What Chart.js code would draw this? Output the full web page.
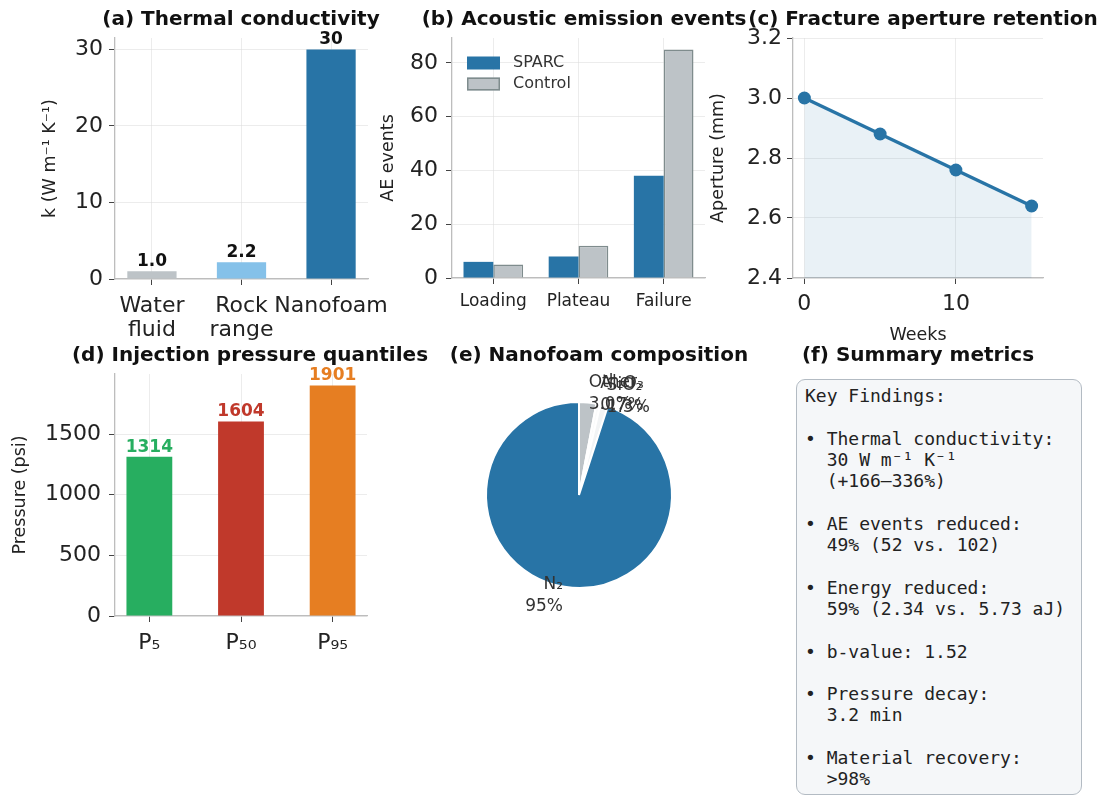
<!DOCTYPE html>
<html>
<head>
<meta charset="utf-8">
<script src="https://cdn.jsdelivr.net/npm/chart.js@4.4.1/dist/chart.umd.min.js"></script>
<style>
  html, body { margin: 0; padding: 0; background: #fff; }
  #fig { position: relative; width: 1103px; height: 797px; overflow: hidden; background: #fff; font-family: 'DejaVu Sans', sans-serif; }
  #fig canvas { position: absolute; left: 0; top: 0; }
  .ttl { position: absolute; transform: translate(-50%, -50%); font-weight: bold; font-size: 20px; white-space: nowrap; color: #111; }
  #summary { position: absolute; left: 796px; top: 379px; width: 286px; height: 416px; box-sizing: border-box;
             border: 1.5px solid #b3bbc3; border-radius: 9px; background: #f5f7f9; padding: 5px 0 0 8px;
             font-family: 'DejaVu Sans Mono', monospace; font-size: 18px; line-height: 21.3px; white-space: pre; color: #222; }
</style>
</head>
<body>
<div id="fig">
  <canvas id="cA" width="1103" height="797"></canvas>
  <canvas id="cB" width="1103" height="797"></canvas>
  <canvas id="cC" width="1103" height="797"></canvas>
  <canvas id="cD" width="1103" height="797"></canvas>
  <canvas id="cE" width="1103" height="797"></canvas>
  <div class="ttl" style="left:241px;top:18px">(a) Thermal conductivity</div>
  <div class="ttl" style="left:584px;top:18px">(b) Acoustic emission events</div>
  <div class="ttl" style="left:923px;top:18px">(c) Fracture aperture retention</div>
  <div class="ttl" style="left:250px;top:354px">(d) Injection pressure quantiles</div>
  <div class="ttl" style="left:599px;top:354px">(e) Nanofoam composition</div>
  <div class="ttl" style="left:918px;top:354px">(f) Summary metrics</div>
  <div id="summary"></div>
</div>
<script>
// ---- data ----
const materials = [['Water', 'fluid'], ['Rock', 'range'], 'Nanofoam'];
const conductivity = [1.0, 2.2, 30];
const conductivityTicks = [0, 10, 20, 30];

const phases = ['Loading', 'Plateau', 'Failure'];
const aeSparc = [6, 8, 38];
const aeControl = [5, 12, 85];
const aeTicks = [0, 20, 40, 60, 80];

const weeks = [0, 5, 10, 15];
const aperture = [3.00, 2.88, 2.76, 2.64];
const apertureTicks = [2.4, 2.6, 2.8, 3.0, 3.2];
const weekTicks = [0, 10];

const quantiles = ['P\u2085', 'P\u2085\u2080', 'P\u2089\u2085'];
const pressure = [1314, 1604, 1901];
const pressureTicks = [0, 500, 1000, 1500];

const components = ['N\u2082', 'SiO\u2082', 'Al\u2082O\u2083', 'Other'];
const shares = [95, 1.3, 0.7, 3.0];

const findings = [
  'Key Findings:',
  '',
  '\u2022 Thermal conductivity:',
  '  30 W m\u207B\u00B9 K\u207B\u00B9',
  '  (+166\u2013336%)',
  '',
  '\u2022 AE events reduced:',
  '  49% (52 vs. 102)',
  '',
  '\u2022 Energy reduced:',
  '  59% (2.34 vs. 5.73 aJ)',
  '',
  '\u2022 b-value: 1.52',
  '',
  '\u2022 Pressure decay:',
  '  3.2 min',
  '',
  '\u2022 Material recovery:',
  '  >98%'
];

// ---- styling ----
const W = 1103, H = 797;
const BLUE = '#2874a6';
const SPINE = '#bdbdbd';
const GRID = 'rgba(220,220,220,0.55)';
const TEXT = '#222';
Chart.defaults.font.family = "'DejaVu Sans', sans-serif";
Chart.defaults.color = TEXT;
Chart.defaults.animation = false;

document.getElementById('summary').textContent = findings.join('\n');

// fixed axis sizes so every plot area lands on a known rectangle
function fixSize(size) {
  return s => {
    if (s.isHorizontal()) s.height = size; else s.width = size;
    s.paddingTop = s.paddingBottom = s.paddingLeft = s.paddingRight = 0;
  };
}
function frame(area, yW, xH) {
  return { padding: { left: area[0] - yW, top: area[1], right: W - area[2], bottom: H - area[3] - xH } };
}
function axis(opts) {
  return {
    type: 'linear', min: opts.min, max: opts.max, z: opts.z || 0, offset: false,
    afterBuildTicks: s => { s.ticks = opts.ticks.map(v => ({ value: v })); },
    afterFit: fixSize(opts.size),
    grid: { color: GRID, lineWidth: 1, tickLength: 6, tickColor: '#444', tickWidth: 1, offset: false },
    border: { color: SPINE, width: 1.3 },
    ticks: { font: { size: opts.fontSize || 22, lineHeight: 1.1 }, color: TEXT, padding: opts.pad || 7,
             autoSkip: false, maxRotation: 0, minRotation: 0, callback: opts.fmt },
    title: { display: !!opts.title, text: opts.title, font: { size: 17.5 }, color: TEXT, padding: { top: 0, bottom: 0 } }
  };
}
const basePlugins = { legend: { display: false }, tooltip: { enabled: false } };

function barLabels(colors, fmt) {
  return {
    id: 'barLabels',
    afterDraw(chart) {
      const ctx = chart.ctx;
      const ds = chart.data.datasets[0];
      ctx.save();
      ctx.font = "bold 17px 'DejaVu Sans'";
      ctx.textAlign = 'center';
      ctx.textBaseline = 'bottom';
      chart.getDatasetMeta(0).data.forEach((bar, i) => {
        ctx.fillStyle = colors[i];
        ctx.fillText(fmt(ds.data[i].y), bar.x, bar.y - 1);
      });
      ctx.restore();
    }
  };
}

// ---- (a) thermal conductivity ----
new Chart(document.getElementById('cA'), {
  type: 'bar',
  data: { datasets: [{
    data: conductivity.map((v, i) => ({ x: i, y: v })),
    backgroundColor: ['#bdc3c7', '#85c1e9', BLUE],
    categoryPercentage: 0.55, barPercentage: 1
  }] },
  options: {
    responsive: false, layout: frame([115, 38, 368, 279], 75, 70),
    plugins: basePlugins,
    scales: {
      x: axis({ min: -0.4125, max: 2.4125, ticks: [0, 1, 2], size: 70, z: 1, pad: 9, fmt: v => materials[v] }),
      y: axis({ min: 0, max: 31.5, ticks: conductivityTicks, size: 75, z: 1, pad: 6, fmt: v => String(v),
                title: 'k (W m\u207B\u00B9 K\u207B\u00B9)' })
    }
  },
  plugins: [barLabels(['#111', '#111', '#111'], v => v >= 10 ? v.toFixed(0) : v.toFixed(1))]
});

// ---- (b) acoustic emission ----
const aeLegend = {
  id: 'aeLegend',
  afterDraw(chart) {
    const ctx = chart.ctx, a = chart.chartArea;
    ctx.save();
    ctx.font = "16px 'DejaVu Sans'";
    ctx.textBaseline = 'middle';
    chart.data.datasets.forEach((ds, i) => {
      const x = a.left + 15, y = a.top + 25 + i * 21;
      ctx.fillStyle = ds.backgroundColor;
      ctx.fillRect(x, y - 6.5, 33, 13);
      if (ds.borderWidth) {
        ctx.strokeStyle = ds.borderColor; ctx.lineWidth = ds.borderWidth;
        ctx.strokeRect(x + 0.75, y - 5.75, 31.5, 11.5);
      }
      ctx.fillStyle = '#333';
      ctx.fillText(ds.label, x + 46, y);
    });
    ctx.restore();
  }
};
new Chart(document.getElementById('cB'), {
  type: 'bar',
  data: { datasets: [
    { label: 'SPARC', data: aeSparc.map((v, i) => ({ x: i, y: v })), backgroundColor: BLUE, borderWidth: 0,
      categoryPercentage: 0.7, barPercentage: 1 },
    { label: 'Control', data: aeControl.map((v, i) => ({ x: i, y: v })), backgroundColor: '#bdc3c7',
      borderColor: '#7f8c8d', borderWidth: 1.5, categoryPercentage: 0.7, barPercentage: 1 }
  ] },
  options: {
    responsive: false, layout: frame([452, 38, 705, 278], 74, 70),
    plugins: basePlugins,
    scales: {
      x: axis({ min: -0.485, max: 2.485, ticks: [0, 1, 2], size: 70, z: 1, fontSize: 17, pad: 8, fmt: v => phases[v] }),
      y: axis({ min: 0, max: 89.25, ticks: aeTicks, size: 74, z: 1, pad: 8, fmt: v => String(v), title: 'AE events' })
    }
  },
  plugins: [aeLegend]
});

// ---- (c) aperture retention ----
new Chart(document.getElementById('cC'), {
  type: 'line',
  data: { datasets: [{
    data: weeks.map((w, i) => ({ x: w, y: aperture[i] })),
    borderColor: BLUE, borderWidth: 3.5, pointRadius: 6.5, pointBackgroundColor: BLUE, pointBorderWidth: 0,
    fill: 'start', backgroundColor: 'rgba(40,116,166,0.1)', tension: 0
  }] },
  options: {
    responsive: false, layout: frame([793, 38, 1043, 278], 85, 68),
    plugins: basePlugins,
    scales: {
      x: axis({ min: -0.75, max: 15.75, ticks: weekTicks, size: 68, pad: 8, fmt: v => String(v), title: 'Weeks' }),
      y: axis({ min: 2.4, max: 3.2, ticks: apertureTicks, size: 85, pad: 5, fmt: v => v.toFixed(1), title: 'Aperture (mm)' })
    }
  }
});

// ---- (d) injection pressure ----
const qColors = ['#27ae60', '#c0392b', '#e67e22'];
new Chart(document.getElementById('cD'), {
  type: 'bar',
  data: { datasets: [{
    data: pressure.map((v, i) => ({ x: i, y: v })),
    backgroundColor: qColors, categoryPercentage: 0.5, barPercentage: 1
  }] },
  options: {
    responsive: false, layout: frame([115, 374, 367, 616], 105, 60),
    plugins: basePlugins,
    scales: {
      x: axis({ min: -0.375, max: 2.375, ticks: [0, 1, 2], size: 60, z: 1, pad: 9, fmt: v => quantiles[v] }),
      y: axis({ min: 0, max: 1996, ticks: pressureTicks, size: 105, z: 1, pad: 8, fmt: v => String(v), title: 'Pressure (psi)' })
    }
  },
  plugins: [barLabels(qColors, v => String(v))]
});

// ---- (e) composition pie ----
const pieOrder = components.map((_, i) => i).reverse();   // clockwise from 12 o'clock
const pieLabels = {
  id: 'pieLabels',
  afterDraw(chart) {
    const ctx = chart.ctx;
    ctx.save();
    ctx.font = "17px 'DejaVu Sans'";
    ctx.fillStyle = '#333';
    ctx.textBaseline = 'middle';
    chart.getDatasetMeta(0).data.forEach((arc, i) => {
      const p = arc.getProps(['x', 'y', 'startAngle', 'endAngle', 'outerRadius'], true);
      const a = (p.startAngle + p.endAngle) / 2, r = p.outerRadius * 1.1;
      const px = p.x + r * Math.cos(a), py = p.y + r * Math.sin(a);
      const v = chart.data.datasets[0].data[i];
      const lines = [chart.data.labels[i], (v >= 10 ? v.toFixed(0) : v.toFixed(1)) + '%'];
      ctx.textAlign = Math.cos(a) >= 0 ? 'left' : 'right';
      lines.forEach((t, k) => ctx.fillText(t, px, py + (k - 0.5) * 22));
    });
    ctx.restore();
  }
};
const compColors = [BLUE, '#f2f4f5', '#fafbfb', '#bdc3c7'];
new Chart(document.getElementById('cE'), {
  type: 'pie',
  data: {
    labels: pieOrder.map(i => components[i]),
    datasets: [{
      data: pieOrder.map(i => shares[i]),
      backgroundColor: pieOrder.map(i => compColors[i]),
      borderColor: '#ffffff', borderWidth: 2
    }]
  },
  options: {
    responsive: false,
    layout: { padding: { left: 485, top: 401, right: W - 673, bottom: H - 589 } },
    plugins: basePlugins
  },
  plugins: [pieLabels]
});
</script>
</body>
</html>
